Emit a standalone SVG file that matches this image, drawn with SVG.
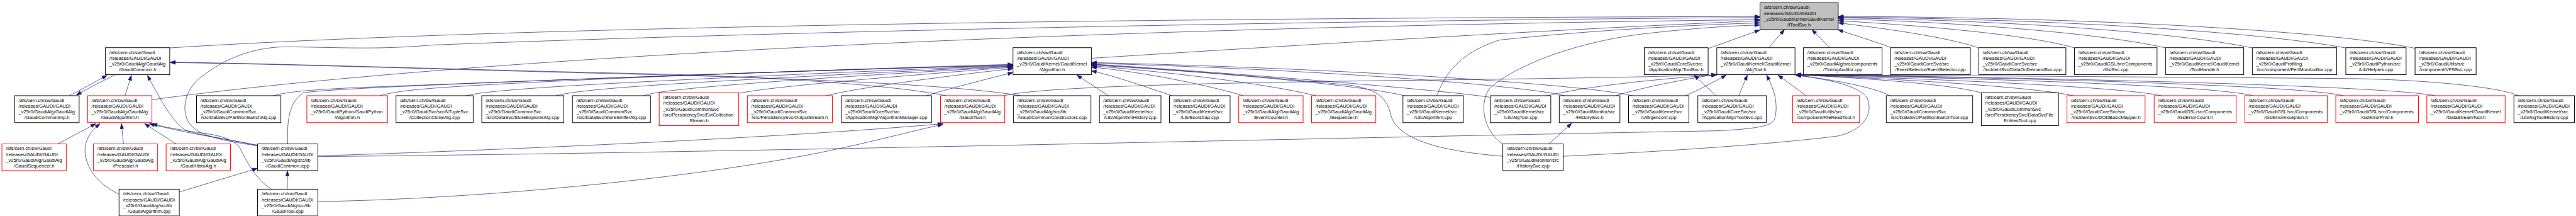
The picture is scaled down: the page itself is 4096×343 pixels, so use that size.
<svg xmlns="http://www.w3.org/2000/svg" width="4096" height="343" viewBox="0 0 4096 343">
<defs>
<marker id="ah" markerUnits="userSpaceOnUse" markerWidth="15" markerHeight="11" refX="14" refY="5" orient="auto" overflow="visible">
<path d="M0,0 L14,5 L0,10 Z" fill="#191970" stroke="#191970" stroke-width="1"/>
</marker>
</defs>
<style>
.b{fill:#fff;stroke:#000;stroke-width:1.7}
.r{fill:#fff;stroke:#f00;stroke-width:1.7}
.g{fill:#bfbfbf;stroke:#000;stroke-width:1.7}
text{font-family:"Liberation Sans",Arial,Helvetica,sans-serif;font-size:13.3px;fill:#000}
.c{text-anchor:middle}
#edges path{fill:none;stroke:#191970;stroke-width:1.2;marker-end:url(#ah)}
</style>
<rect width="4096" height="343" fill="#fff"/>
<g transform="scale(0.5677)">
<g id="edges">
<path d="M475,134 C1300,82 2800,52 4929,46"/>
<path d="M721,408 C640,395 560,385 530,345 C505,305 520,250 560,218 C620,170 700,132 800,131 C950,132 1050,140 1210,126 C2400,80 4000,55 4929,49"/>
<path d="M426,279 C1000,200 2400,85 4929,55"/>
<path d="M3057,163 C3600,128 4400,80 4929,58"/>
<path d="M4024,268 C4045,215 4080,150 4200,112 C4500,80 4800,68 4929,64"/>
<path d="M4209,403 C4160,370 4140,300 4170,250 C4230,190 4400,120 4600,95 C4750,78 4850,72 4929,70"/>
<path d="M4784,136 L4929,84"/>
<path d="M4954,133 L4998,83"/>
<path d="M5125,133 L5075,83"/>
<path d="M5296,133 C5250,115 5190,98 5148,83"/>
<path d="M5542,134 C5480,112 5350,88 5149,64"/>
<path d="M5810,134 C5700,100 5400,72 5149,58"/>
<path d="M6065,134 C5900,95 5500,62 5149,53"/>
<path d="M6308,134 C6100,90 5600,56 5149,50"/>
<path d="M6570,134 C6300,85 5700,52 5149,48"/>
<path d="M6764,135 C6500,82 5800,48 5149,46"/>
<path d="M765,268 C800,258 850,252 1000,245 C1600,222 2400,192 2837,180"/>
<path d="M806,403 C803,330 812,285 849,260 C900,250 1200,238 1600,222 C2200,200 2600,188 2837,182"/>
<path d="M1063,268 C1120,252 1200,245 1500,230 C2000,205 2500,190 2837,183"/>
<path d="M1305,268 C1340,258 1450,248 1700,234 C2200,208 2600,192 2837,184"/>
<path d="M1557,268 C1600,255 1750,242 2000,228 C2400,205 2700,192 2837,185"/>
<path d="M1803,268 C1830,256 1950,244 2200,226 C2500,205 2750,192 2837,186"/>
<path d="M2069,261 C2150,244 2450,218 2837,188"/>
<path d="M2313,268 C2380,250 2600,218 2837,192"/>
<path d="M2594,268 C2650,250 2760,222 2837,203"/>
<path d="M3105,268 L3016,210"/>
<path d="M3284,268 C3200,240 3120,212 3057,198"/>
<path d="M3482,268 C3400,242 3200,200 3057,188"/>
<path d="M3685,268 C3620,250 3400,212 3057,184"/>
<path d="M3934,268 C3850,245 3500,208 3057,182"/>
<path d="M4209,437 C4000,420 3910,380 3895,320 C3885,275 3860,250 3780,238 C3500,210 3200,190 3057,180"/>
<path d="M4174,272 C4000,248 3500,208 3057,179"/>
<path d="M4383,268 C4300,245 3800,198 3057,177"/>
<path d="M4573,268 C4450,238 3800,192 3057,175"/>
<path d="M194,268 C230,250 260,232 300,211"/>
<path d="M323,209 C290,225 250,245 214,266"/>
<path d="M350,268 L368,211"/>
<path d="M721,406 C650,392 570,380 520,365 C480,340 440,260 413,211"/>
<path d="M2651,268 C2500,236 2100,212 1800,206 C1300,195 800,178 477,174"/>
<path d="M2859,268 C2700,240 2300,221 1800,208 C1300,196 800,179 477,175"/>
<path d="M161,403 L268,346"/>
<path d="M346,403 L340,346"/>
<path d="M494,403 L405,346"/>
<path d="M333,543 C290,522 252,490 240,440 C232,400 250,370 280,346"/>
<path d="M721,407 C640,390 560,378 500,365 C470,358 440,352 418,346"/>
<path d="M760,529 C715,500 690,450 670,410 C650,390 620,380 580,374 C520,366 460,356 426,346"/>
<path d="M805,529 L805,478"/>
<path d="M502,537 L721,471"/>
<path d="M890,436 C1400,420 2200,385 2641,346"/>
<path d="M890,564 C1400,555 2000,490 2330,420 C2450,395 2560,365 2641,348"/>
<path d="M4870,268 L4894,210"/>
<path d="M4332,268 C4450,240 4650,220 4808,210"/>
<path d="M4525,268 C4580,250 4700,224 4808,208"/>
<path d="M4721,268 C4760,250 4800,230 4835,210"/>
<path d="M2811,268 C2900,245 3300,232 4000,224 C4500,218 4700,213 4808,209"/>
<path d="M890,438 C2000,428 3500,390 4800,366 C4900,362 4960,355 4970,335 C4980,300 4975,260 4948,210"/>
<path d="M4379,437 C4700,422 5000,400 5150,380 C5230,360 5245,310 5230,275 C5210,240 5120,222 5030,210"/>
<path d="M5059,268 L4980,210"/>
<path d="M5294,268 C5250,245 5150,225 5029,210"/>
<path d="M5549,260 C5480,238 5250,220 5029,209"/>
<path d="M5808,268 C5700,243 5300,220 5029,209"/>
<path d="M6054,268 C5950,243 5400,220 5029,209"/>
<path d="M6311,268 C6200,238 5500,218 5029,209"/>
<path d="M6564,268 C6450,238 5600,216 5029,209"/>
<path d="M6820,268 C6700,240 5700,216 5029,209"/>
<path d="M7055,268 C7000,243 6800,224 6600,220 C6000,215 5400,211 5029,209"/>
<path d="M4807,268 L4745,210"/>
<path d="M4338,403 L4402,345"/>
</g>
<g id="n0"><rect class="g" x="4929.5" y="7.8" width="219.1" height="75"/><text x="4940.4" y="25.3">/afs/cern.ch/sw/Gaudi<tspan x="4940.4" y="41.5">/releases/GAUDI/GAUDI</tspan><tspan x="4940.4" y="57.6">_v25r0/GaudiKernel/GaudiKernel</tspan></text><text class="c" x="5039" y="73.8">/IToolSvc.h</text></g>
<g id="gcom"><rect class="b" x="295.3" y="133.4" width="180.1" height="75.5"/><text x="306.2" y="150.9">/afs/cern.ch/sw/Gaudi<tspan x="306.2" y="167.1">/releases/GAUDI/GAUDI</tspan><tspan x="306.2" y="183.2">_v25r0/GaudiAlg/GaudiAlg</tspan></text><text class="c" x="385.4" y="199.4">/GaudiCommon.h</text></g>
<g id="alg"><rect class="b" x="2837.3" y="133.4" width="219.5" height="75.5"/><text x="2848.2" y="150.9">/afs/cern.ch/sw/Gaudi<tspan x="2848.2" y="167.1">/releases/GAUDI/GAUDI</tspan><tspan x="2848.2" y="183.2">_v25r0/GaudiKernel/GaudiKernel</tspan></text><text class="c" x="2947" y="199.4">/Algorithm.h</text></g>
<g id="toolsvch"><rect class="b" x="4605.4" y="133.4" width="178.9" height="75.5"/><text x="4616.3" y="150.9">/afs/cern.ch/sw/Gaudi<tspan x="4616.3" y="167.1">/releases/GAUDI/GAUDI</tspan><tspan x="4616.3" y="183.2">_v25r0/GaudiCoreSvc/src</tspan></text><text class="c" x="4694.9" y="199.4">/ApplicationMgr/ToolSvc.h</text></g>
<g id="algtoolh"><rect class="b" x="4808.6" y="133.4" width="219" height="75.5"/><text x="4819.5" y="150.9">/afs/cern.ch/sw/Gaudi<tspan x="4819.5" y="167.1">/releases/GAUDI/GAUDI</tspan><tspan x="4819.5" y="183.2">_v25r0/GaudiKernel/GaudiKernel</tspan></text><text class="c" x="4918.1" y="199.4">/AlgTool.h</text></g>
<g id="timing"><rect class="b" x="5051.3" y="133.4" width="220.2" height="75.5"/><text x="5062.2" y="150.9">/afs/cern.ch/sw/Gaudi<tspan x="5062.2" y="167.1">/releases/GAUDI/GAUDI</tspan><tspan x="5062.2" y="183.2">_v25r0/GaudiAlg/src/components</tspan></text><text class="c" x="5161.4" y="199.4">/TimingAuditor.cpp</text></g>
<g id="evtsel"><rect class="b" x="5295.2" y="133.4" width="223.5" height="75.5"/><text x="5306.1" y="150.9">/afs/cern.ch/sw/Gaudi<tspan x="5306.1" y="167.1">/releases/GAUDI/GAUDI</tspan><tspan x="5306.1" y="183.2">_v25r0/GaudiCoreSvc/src</tspan></text><text class="c" x="5407" y="199.4">/EventSelector/EventSelector.cpp</text></g>
<g id="dod"><rect class="b" x="5542.4" y="133.4" width="243.9" height="75.5"/><text x="5553.3" y="150.9">/afs/cern.ch/sw/Gaudi<tspan x="5553.3" y="167.1">/releases/GAUDI/GAUDI</tspan><tspan x="5553.3" y="183.2">_v25r0/GaudiCoreSvc/src</tspan></text><text class="c" x="5664.4" y="199.4">/IncidentSvc/DataOnDemandSvc.cpp</text></g>
<g id="gslsvc"><rect class="b" x="5810.4" y="133.4" width="231.2" height="75.5"/><text x="5821.3" y="150.9">/afs/cern.ch/sw/Gaudi<tspan x="5821.3" y="167.1">/releases/GAUDI/GAUDI</tspan><tspan x="5821.3" y="183.2">_v25r0/GaudiGSL/src/Components</tspan></text><text class="c" x="5926" y="199.4">/GslSvc.cpp</text></g>
<g id="toolhandle"><rect class="b" x="6065.4" y="133.4" width="219" height="75.5"/><text x="6076.3" y="150.9">/afs/cern.ch/sw/Gaudi<tspan x="6076.3" y="167.1">/releases/GAUDI/GAUDI</tspan><tspan x="6076.3" y="183.2">_v25r0/GaudiKernel/GaudiKernel</tspan></text><text class="c" x="6174.9" y="199.4">/ToolHandle.h</text></g>
<g id="perfmon"><rect class="b" x="6308.5" y="133.4" width="236.5" height="75.5"/><text x="6319.4" y="150.9">/afs/cern.ch/sw/Gaudi<tspan x="6319.4" y="167.1">/releases/GAUDI/GAUDI</tspan><tspan x="6319.4" y="183.2">_v25r0/GaudiProfiling</tspan></text><text class="c" x="6426.8" y="199.4">/src/component/PerfMonAuditor.cpp</text></g>
<g id="helpers"><rect class="b" x="6570.3" y="133.4" width="168.9" height="75.5"/><text x="6581.2" y="150.9">/afs/cern.ch/sw/Gaudi<tspan x="6581.2" y="167.1">/releases/GAUDI/GAUDI</tspan><tspan x="6581.2" y="183.2">_v25r0/GaudiPython/src</tspan></text><text class="c" x="6654.8" y="199.4">/Lib/Helpers.cpp</text></g>
<g id="vfssvc"><rect class="b" x="6764.3" y="133.4" width="171" height="75.5"/><text x="6775.2" y="150.9">/afs/cern.ch/sw/Gaudi<tspan x="6775.2" y="167.1">/releases/GAUDI/GAUDI</tspan><tspan x="6775.2" y="183.2">_v25r0/GaudiUtils/src</tspan></text><text class="c" x="6849.8" y="199.4">/component/VFSSvc.cpp</text></g>
<g id="gcimp"><rect class="b" x="41.2" y="267.7" width="180.5" height="75.4"/><text x="52.1" y="285.2">/afs/cern.ch/sw/Gaudi<tspan x="52.1" y="301.4">/releases/GAUDI/GAUDI</tspan><tspan x="52.1" y="317.5">_v25r0/GaudiAlg/GaudiAlg</tspan></text><text class="c" x="131.5" y="333.7">/GaudiCommonImp.h</text></g>
<g id="galgh"><rect class="r" x="245.5" y="267.7" width="180.1" height="75.4"/><text x="256.4" y="285.2">/afs/cern.ch/sw/Gaudi<tspan x="256.4" y="301.4">/releases/GAUDI/GAUDI</tspan><tspan x="256.4" y="317.5">_v25r0/GaudiAlg/GaudiAlg</tspan></text><text class="c" x="335.6" y="333.7">/GaudiAlgorithm.h</text></g>
<g id="psalg"><rect class="b" x="550.5" y="267.7" width="236.2" height="75.4"/><text x="561.4" y="285.2">/afs/cern.ch/sw/Gaudi<tspan x="561.4" y="301.4">/releases/GAUDI/GAUDI</tspan><tspan x="561.4" y="317.5">_v25r0/GaudiCommonSvc</tspan></text><text class="c" x="668.6" y="333.7">/src/DataSvc/PartitionSwitchAlg.cpp</text></g>
<g id="gpyalg"><rect class="r" x="859.5" y="267.7" width="226" height="75.4"/><text x="870.4" y="285.2">/afs/cern.ch/sw/Gaudi<tspan x="870.4" y="301.4">/releases/GAUDI/GAUDI</tspan><tspan x="870.4" y="317.5">_v25r0/GaudiPython/GaudiPython</tspan></text><text class="c" x="972.5" y="333.7">/Algorithm.h</text></g>
<g id="collclone"><rect class="b" x="1109.2" y="267.7" width="216.1" height="75.4"/><text x="1120.1" y="285.2">/afs/cern.ch/sw/Gaudi<tspan x="1120.1" y="301.4">/releases/GAUDI/GAUDI</tspan><tspan x="1120.1" y="317.5">_v25r0/GaudiSvc/src/NTupleSvc</tspan></text><text class="c" x="1217.3" y="333.7">/CollectionCloneAlg.cpp</text></g>
<g id="storeexp"><rect class="b" x="1349.4" y="267.7" width="229.9" height="75.4"/><text x="1360.3" y="285.2">/afs/cern.ch/sw/Gaudi<tspan x="1360.3" y="301.4">/releases/GAUDI/GAUDI</tspan><tspan x="1360.3" y="317.5">_v25r0/GaudiCommonSvc</tspan></text><text class="c" x="1464.4" y="333.7">/src/DataSvc/StoreExplorerAlg.cpp</text></g>
<g id="storesniff"><rect class="b" x="1603.4" y="267.7" width="218.4" height="75.4"/><text x="1614.3" y="285.2">/afs/cern.ch/sw/Gaudi<tspan x="1614.3" y="301.4">/releases/GAUDI/GAUDI</tspan><tspan x="1614.3" y="317.5">_v25r0/GaudiCommonSvc</tspan></text><text class="c" x="1712.6" y="333.7">/src/DataSvc/StoreSnifferAlg.cpp</text></g>
<g id="evtcoll"><rect class="r" x="1846.3" y="259.5" width="222.9" height="91.8"/><text x="1857.2" y="277">/afs/cern.ch/sw/Gaudi<tspan x="1857.2" y="293.2">/releases/GAUDI/GAUDI</tspan><tspan x="1857.2" y="309.3">_v25r0/GaudiCommonSvc</tspan><tspan x="1857.2" y="325.5">/src/PersistencySvc/EvtCollection</tspan></text><text class="c" x="1957.8" y="341.6">Stream.h</text></g>
<g id="outstream"><rect class="r" x="2093.3" y="267.7" width="238.1" height="75.4"/><text x="2104.2" y="285.2">/afs/cern.ch/sw/Gaudi<tspan x="2104.2" y="301.4">/releases/GAUDI/GAUDI</tspan><tspan x="2104.2" y="317.5">_v25r0/GaudiCommonSvc</tspan></text><text class="c" x="2212.4" y="333.7">/src/PersistencySvc/OutputStream.h</text></g>
<g id="algmgr"><rect class="b" x="2356.7" y="267.7" width="252.6" height="75.4"/><text x="2367.6" y="285.2">/afs/cern.ch/sw/Gaudi<tspan x="2367.6" y="301.4">/releases/GAUDI/GAUDI</tspan><tspan x="2367.6" y="317.5">_v25r0/GaudiCoreSvc/src</tspan></text><text class="c" x="2483" y="333.7">/ApplicationMgr/AlgorithmManager.cpp</text></g>
<g id="gtoolh"><rect class="r" x="2634.2" y="267.7" width="180.1" height="75.4"/><text x="2645.1" y="285.2">/afs/cern.ch/sw/Gaudi<tspan x="2645.1" y="301.4">/releases/GAUDI/GAUDI</tspan><tspan x="2645.1" y="317.5">_v25r0/GaudiAlg/GaudiAlg</tspan></text><text class="c" x="2724.3" y="333.7">/GaudiTool.h</text></g>
<g id="gcctor"><rect class="b" x="2838.4" y="267.7" width="217.2" height="75.4"/><text x="2849.3" y="285.2">/afs/cern.ch/sw/Gaudi<tspan x="2849.3" y="301.4">/releases/GAUDI/GAUDI</tspan><tspan x="2849.3" y="317.5">_v25r0/GaudiAlg/src/lib</tspan></text><text class="c" x="2947" y="333.7">/GaudiCommonConstructors.cpp</text></g>
<g id="alghist"><rect class="b" x="3079.4" y="267.7" width="172.3" height="75.4"/><text x="3090.3" y="285.2">/afs/cern.ch/sw/Gaudi<tspan x="3090.3" y="301.4">/releases/GAUDI/GAUDI</tspan><tspan x="3090.3" y="317.5">_v25r0/GaudiKernel/src</tspan></text><text class="c" x="3165.6" y="333.7">/Lib/AlgorithmHistory.cpp</text></g>
<g id="bootstrap"><rect class="b" x="3275.4" y="267.7" width="170" height="75.4"/><text x="3286.3" y="285.2">/afs/cern.ch/sw/Gaudi<tspan x="3286.3" y="301.4">/releases/GAUDI/GAUDI</tspan><tspan x="3286.3" y="317.5">_v25r0/GaudiKernel/src</tspan></text><text class="c" x="3360.4" y="333.7">/Lib/Bootstrap.cpp</text></g>
<g id="evtcounter"><rect class="r" x="3469.6" y="267.7" width="180.2" height="75.4"/><text x="3480.5" y="285.2">/afs/cern.ch/sw/Gaudi<tspan x="3480.5" y="301.4">/releases/GAUDI/GAUDI</tspan><tspan x="3480.5" y="317.5">_v25r0/GaudiAlg/GaudiAlg</tspan></text><text class="c" x="3559.7" y="333.7">/EventCounter.h</text></g>
<g id="sequencer"><rect class="r" x="3673.5" y="267.7" width="180.1" height="75.4"/><text x="3684.4" y="285.2">/afs/cern.ch/sw/Gaudi<tspan x="3684.4" y="301.4">/releases/GAUDI/GAUDI</tspan><tspan x="3684.4" y="317.5">_v25r0/GaudiAlg/GaudiAlg</tspan></text><text class="c" x="3763.6" y="333.7">/Sequencer.h</text></g>
<g id="algcpp"><rect class="b" x="3929.5" y="267.7" width="169.2" height="75.4"/><text x="3940.4" y="285.2">/afs/cern.ch/sw/Gaudi<tspan x="3940.4" y="301.4">/releases/GAUDI/GAUDI</tspan><tspan x="3940.4" y="317.5">_v25r0/GaudiKernel/src</tspan></text><text class="c" x="4014.1" y="333.7">/Lib/Algorithm.cpp</text></g>
<g id="algtoolcpp"><rect class="b" x="4174.2" y="267.7" width="169.4" height="75.4"/><text x="4185.1" y="285.2">/afs/cern.ch/sw/Gaudi<tspan x="4185.1" y="301.4">/releases/GAUDI/GAUDI</tspan><tspan x="4185.1" y="317.5">_v25r0/GaudiKernel/src</tspan></text><text class="c" x="4258.9" y="333.7">/Lib/AlgTool.cpp</text></g>
<g id="histsvch"><rect class="b" x="4367.3" y="267.7" width="170" height="75.4"/><text x="4378.2" y="285.2">/afs/cern.ch/sw/Gaudi<tspan x="4378.2" y="301.4">/releases/GAUDI/GAUDI</tspan><tspan x="4378.2" y="317.5">_v25r0/GaudiMonitor/src</tspan></text><text class="c" x="4452.3" y="333.7">/HistorySvc.h</text></g>
<g id="genconf"><rect class="b" x="4561.4" y="267.7" width="168.9" height="75.4"/><text x="4572.3" y="285.2">/afs/cern.ch/sw/Gaudi<tspan x="4572.3" y="301.4">/releases/GAUDI/GAUDI</tspan><tspan x="4572.3" y="317.5">_v25r0/GaudiKernel/src</tspan></text><text class="c" x="4645.9" y="333.7">/Util/genconf.cpp</text></g>
<g id="toolsvccpp"><rect class="b" x="4755.5" y="267.7" width="191.9" height="75.4"/><text x="4766.4" y="285.2">/afs/cern.ch/sw/Gaudi<tspan x="4766.4" y="301.4">/releases/GAUDI/GAUDI</tspan><tspan x="4766.4" y="317.5">_v25r0/GaudiCoreSvc/src</tspan></text><text class="c" x="4851.5" y="333.7">/ApplicationMgr/ToolSvc.cpp</text></g>
<g id="filereadtool"><rect class="r" x="5021" y="267.7" width="187.5" height="75.4"/><text x="5031.9" y="285.2">/afs/cern.ch/sw/Gaudi<tspan x="5031.9" y="301.4">/releases/GAUDI/GAUDI</tspan><tspan x="5031.9" y="317.5">_v25r0/GaudiUtils/src</tspan></text><text class="c" x="5114.8" y="333.7">/component/FileReadTool.h</text></g>
<g id="pstool"><rect class="b" x="5283.2" y="267.7" width="242.1" height="75.4"/><text x="5294.1" y="285.2">/afs/cern.ch/sw/Gaudi<tspan x="5294.1" y="301.4">/releases/GAUDI/GAUDI</tspan><tspan x="5294.1" y="317.5">_v25r0/GaudiCommonSvc</tspan></text><text class="c" x="5404.3" y="333.7">/src/DataSvc/PartitionSwitchTool.cpp</text></g>
<g id="dsfet"><rect class="b" x="5549.4" y="259.5" width="216.3" height="91.8"/><text x="5560.3" y="277">/afs/cern.ch/sw/Gaudi<tspan x="5560.3" y="293.2">/releases/GAUDI/GAUDI</tspan><tspan x="5560.3" y="309.3">_v25r0/GaudiCommonSvc</tspan><tspan x="5560.3" y="325.5">/src/PersistencySvc/DataSvcFile</tspan></text><text class="c" x="5657.6" y="341.6">EntriesTool.cpp</text></g>
<g id="dodmapper"><rect class="r" x="5789.4" y="267.7" width="218.7" height="75.4"/><text x="5800.3" y="285.2">/afs/cern.ch/sw/Gaudi<tspan x="5800.3" y="301.4">/releases/GAUDI/GAUDI</tspan><tspan x="5800.3" y="317.5">_v25r0/GaudiCoreSvc/src</tspan></text><text class="c" x="5898.8" y="333.7">/IncidentSvc/DODBasicMapper.h</text></g>
<g id="gslcount"><rect class="r" x="6033.5" y="267.7" width="229.9" height="75.4"/><text x="6044.4" y="285.2">/afs/cern.ch/sw/Gaudi<tspan x="6044.4" y="301.4">/releases/GAUDI/GAUDI</tspan><tspan x="6044.4" y="317.5">_v25r0/GaudiGSL/src/Components</tspan></text><text class="c" x="6148.5" y="333.7">/GslErrorCount.h</text></g>
<g id="gslexc"><rect class="r" x="6287.5" y="267.7" width="231.1" height="75.4"/><text x="6298.4" y="285.2">/afs/cern.ch/sw/Gaudi<tspan x="6298.4" y="301.4">/releases/GAUDI/GAUDI</tspan><tspan x="6298.4" y="317.5">_v25r0/GaudiGSL/src/Components</tspan></text><text class="c" x="6403.1" y="333.7">/GslErrorException.h</text></g>
<g id="gslprint"><rect class="r" x="6542.3" y="267.7" width="231.5" height="75.4"/><text x="6553.2" y="285.2">/afs/cern.ch/sw/Gaudi<tspan x="6553.2" y="301.4">/releases/GAUDI/GAUDI</tspan><tspan x="6553.2" y="317.5">_v25r0/GaudiGSL/src/Components</tspan></text><text class="c" x="6658.1" y="333.7">/GslErrorPrint.h</text></g>
<g id="dstool"><rect class="r" x="6797.3" y="267.7" width="219.2" height="75.4"/><text x="6808.2" y="285.2">/afs/cern.ch/sw/Gaudi<tspan x="6808.2" y="301.4">/releases/GAUDI/GAUDI</tspan><tspan x="6808.2" y="317.5">_v25r0/GaudiKernel/GaudiKernel</tspan></text><text class="c" x="6906.9" y="333.7">/DataStreamTool.h</text></g>
<g id="algtoolhist"><rect class="b" x="7041.2" y="267.7" width="169.5" height="75.4"/><text x="7052.1" y="285.2">/afs/cern.ch/sw/Gaudi<tspan x="7052.1" y="301.4">/releases/GAUDI/GAUDI</tspan><tspan x="7052.1" y="317.5">_v25r0/GaudiKernel/src</tspan></text><text class="c" x="7126" y="333.7">/Lib/AlgToolHistory.cpp</text></g>
<g id="gseq"><rect class="r" x="5.4" y="402.6" width="180.2" height="74.7"/><text x="16.3" y="420.1">/afs/cern.ch/sw/Gaudi<tspan x="16.3" y="436.3">/releases/GAUDI/GAUDI</tspan><tspan x="16.3" y="452.4">_v25r0/GaudiAlg/GaudiAlg</tspan></text><text class="c" x="95.5" y="468.6">/GaudiSequencer.h</text></g>
<g id="prescaler"><rect class="r" x="261.4" y="402.6" width="180.2" height="74.7"/><text x="272.3" y="420.1">/afs/cern.ch/sw/Gaudi<tspan x="272.3" y="436.3">/releases/GAUDI/GAUDI</tspan><tspan x="272.3" y="452.4">_v25r0/GaudiAlg/GaudiAlg</tspan></text><text class="c" x="351.5" y="468.6">/Prescaler.h</text></g>
<g id="ghistoalg"><rect class="r" x="465.3" y="402.6" width="180.2" height="74.7"/><text x="476.2" y="420.1">/afs/cern.ch/sw/Gaudi<tspan x="476.2" y="436.3">/releases/GAUDI/GAUDI</tspan><tspan x="476.2" y="452.4">_v25r0/GaudiAlg/GaudiAlg</tspan></text><text class="c" x="555.4" y="468.6">/GaudiHistoAlg.h</text></g>
<g id="gcicpp"><rect class="b" x="721.4" y="402.6" width="168.8" height="74.7"/><text x="732.3" y="420.1">/afs/cern.ch/sw/Gaudi<tspan x="732.3" y="436.3">/releases/GAUDI/GAUDI</tspan><tspan x="732.3" y="452.4">_v25r0/GaudiAlg/src/lib</tspan></text><text class="c" x="805.8" y="468.6">/GaudiCommon.icpp</text></g>
<g id="histsvccpp"><rect class="b" x="4209.3" y="402.6" width="169.3" height="74.7"/><text x="4220.2" y="420.1">/afs/cern.ch/sw/Gaudi<tspan x="4220.2" y="436.3">/releases/GAUDI/GAUDI</tspan><tspan x="4220.2" y="452.4">_v25r0/GaudiMonitor/src</tspan></text><text class="c" x="4294" y="468.6">/HistorySvc.cpp</text></g>
<g id="galgcpp"><rect class="b" x="333.4" y="529.1" width="168.8" height="75"/><text x="344.3" y="546.6">/afs/cern.ch/sw/Gaudi<tspan x="344.3" y="562.8">/releases/GAUDI/GAUDI</tspan><tspan x="344.3" y="578.9">_v25r0/GaudiAlg/src/lib</tspan></text><text class="c" x="417.8" y="595.1">/GaudiAlgorithm.cpp</text></g>
<g id="gtoolcpp"><rect class="b" x="721.4" y="529.1" width="168.8" height="75"/><text x="732.3" y="546.6">/afs/cern.ch/sw/Gaudi<tspan x="732.3" y="562.8">/releases/GAUDI/GAUDI</tspan><tspan x="732.3" y="578.9">_v25r0/GaudiAlg/src/lib</tspan></text><text class="c" x="805.8" y="595.1">/GaudiTool.cpp</text></g>
</g>
</svg>
